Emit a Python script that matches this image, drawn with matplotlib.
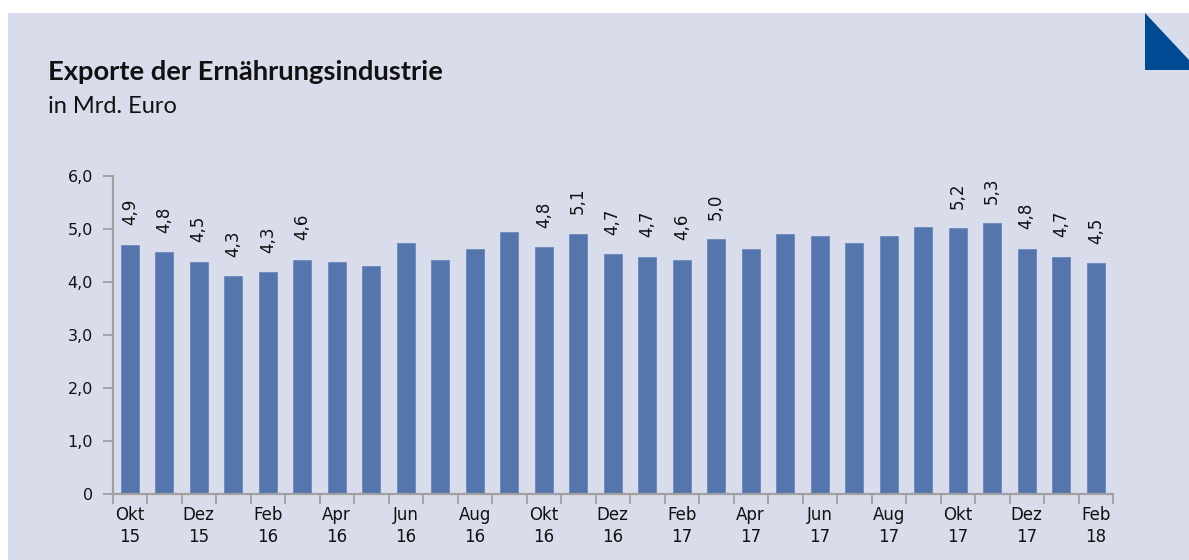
import matplotlib
matplotlib.use("Agg")
import matplotlib.pyplot as plt
from matplotlib.patches import Rectangle, Polygon
import numpy as np

plt.rcParams['font.family'] = ['Lato', 'DejaVu Sans']

months = ["Okt 15", "Nov 15", "Dez 15", "Jan 16", "Feb 16", "Mär 16", "Apr 16", "Mai 16",
          "Jun 16", "Jul 16", "Aug 16", "Sep 16", "Okt 16", "Nov 16", "Dez 16", "Jan 17",
          "Feb 17", "Mär 17", "Apr 17", "Mai 17", "Jun 17", "Jul 17", "Aug 17", "Sep 17",
          "Okt 17", "Nov 17", "Dez 17", "Jan 18", "Feb 18"]
values = [4.70, 4.56, 4.38, 4.11, 4.18, 4.42, 4.38, 4.31, 4.73, 4.42, 4.63, 4.94, 4.66, 4.91,
          4.52, 4.48, 4.42, 4.81, 4.63, 4.91, 4.87, 4.73, 4.87, 5.04, 5.01, 5.11, 4.63, 4.48, 4.35]
value_labels = ["4,9", "4,8", "4,5", "4,3", "4,3", "4,6", "", "", "", "", "", "", "4,8", "5,1",
                "4,7", "4,7", "4,6", "5,0", "", "", "", "", "", "", "5,2", "5,3", "4,8", "4,7", "4,5"]
tick_labels = ["Okt\n15", "Dez\n15", "Feb\n16", "Apr\n16", "Jun\n16", "Aug\n16", "Okt\n16",
               "Dez\n16", "Feb\n17", "Apr\n17", "Jun\n17", "Aug\n17", "Okt\n17", "Dez\n17", "Feb\n18"]
y_ticks = [0, 1, 2, 3, 4, 5, 6]
y_tick_labels = ["0", "1,0", "2,0", "3,0", "4,0", "5,0", "6,0"]

W, H = 1189, 560
fig = plt.figure(figsize=(W / 100, H / 100), dpi=100)
fig.patch.set_facecolor("white")
bg = "#D9DDEB"
fig.patches.append(Rectangle((8 / W, 0), 1 - 8 / W, 1 - 13 / H, transform=fig.transFigure,
                             facecolor=bg, edgecolor="none", zorder=-10))
fig.patches.append(Polygon([(1145 / W, 1 - 13 / H), (1, 1 - 60 / H), (1, 1 - 70 / H),
                            (1145 / W, 1 - 70 / H)], closed=True, transform=fig.transFigure,
                           facecolor="#004A93", edgecolor="none", zorder=-9))

ax = fig.add_axes([112.5 / W, 1 - 494 / H, 1000.5 / W, 318 / H])
ax.set_zorder(5)
ax.set_facecolor("none")
x = np.arange(len(values))
ax.bar(x, values, width=0.53, color="#5575AD", edgecolor="#6A88BD", linewidth=0.6, zorder=2)

num_font = "DejaVu Sans"
for xi, v, lab in zip(x, values, value_labels):
    if lab:
        ax.annotate(lab, (xi, v), xytext=(0, 14), textcoords="offset points",
                    rotation=90, ha="center", va="bottom", fontsize=12, color="#111111",
                    family=num_font)

ax.set_xlim(-0.5, len(values) - 0.5)
ax.set_ylim(0, 6)
ax.set_yticks(y_ticks)
ax.set_yticklabels(y_tick_labels, family=num_font)
ax.set_xticks(x[::2])
ax.set_xticklabels(tick_labels, family=num_font)
ax.set_xticks(np.arange(-0.5, len(values), 1.0), minor=True)

spine_c = "#A0A0A0"
for s in ["top", "right"]:
    ax.spines[s].set_visible(False)
for s in ["left", "bottom"]:
    ax.spines[s].set_color(spine_c)
    ax.spines[s].set_linewidth(1.6)
ax.tick_params(axis="y", length=7, width=1.3, color=spine_c, labelsize=11.5, labelcolor="#111111", pad=7)
ax.tick_params(axis="x", which="major", length=0, labelsize=12, labelcolor="#111111", pad=9)
ax.tick_params(axis="x", which="minor", length=7, width=1.3, color=spine_c, direction="out")
for t in ax.get_xticklabels():
    t.set_linespacing(1.25)
    t.set_family(num_font)

fig.text(48 / W, 1 - 80 / H, "Exporte der Ernährungsindustrie", fontsize=19.7, fontweight="bold",
         color="#111111", ha="left", va="baseline")
fig.text(48 / W, 1 - 113 / H, "in Mrd. Euro", fontsize=17, color="#111111", ha="left", va="baseline")

fig.savefig("out.png", dpi=100, facecolor=fig.get_facecolor())
